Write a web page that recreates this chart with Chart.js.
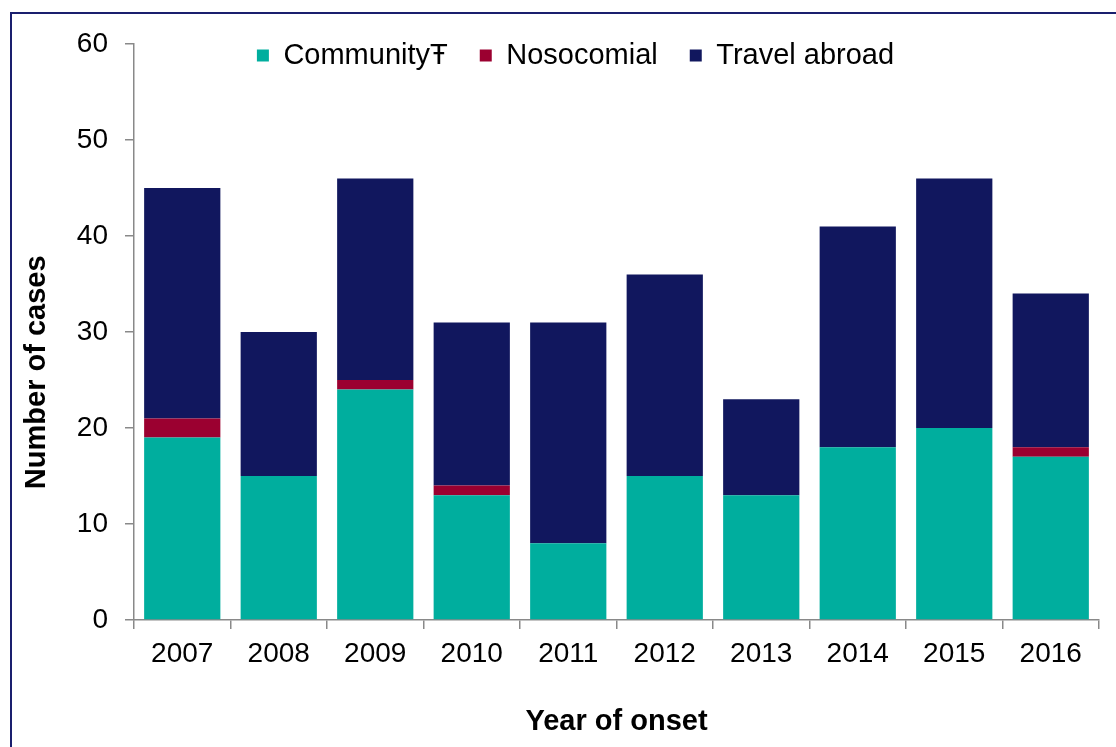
<!DOCTYPE html>
<html>
<head>
<meta charset="utf-8">
<title>Cases by year of onset</title>
<script src="https://cdn.jsdelivr.net/npm/chart.js@4/dist/chart.umd.min.js"></script>
<style>
    body { margin: 0; background: #fff; }
    #wrap { position: relative; width: 1116px; height: 747px; }
    #frame {
        position: absolute; left: 10px; top: 12px; right: -10px; bottom: -10px;
        border-left: 2px solid #1a1f6e; border-top: 2px solid #1a1f6e;
        pointer-events: none;
    }
    canvas { position: absolute; left: 0; top: 0; }
</style>
</head>
<body>
<div id="wrap">
    <canvas id="grafica" width="1116" height="747"></canvas>
    <div id="frame"></div>
</div>
<script>
const years = ["2007", "2008", "2009", "2010", "2011", "2012", "2013", "2014", "2015", "2016"];
const community = [19, 15, 24, 13, 8, 15, 13, 18, 20, 17];
const nosocomial = [2, 0, 1, 1, 0, 0, 0, 0, 0, 1];
const travelAbroad = [24, 15, 21, 17, 23, 21, 10, 23, 26, 16];

const FONT = "'Liberation Sans', Arial, sans-serif";
const AXIS_GREY = "#898989";

// legend sits inside the plot, so move it down after layout
const legendInside = {
    id: "legendInside",
    afterLayout(chart) {
        const lg = chart.legend;
        lg.top += 36;
        lg.bottom += 36;
        lg.left += 26;
        lg.right += 26;
    }
};

function iniciarGrafica() {
    const ctx = document.getElementById("grafica").getContext("2d");

    new Chart(ctx, {
        type: "bar",
        data: {
            labels: years,
            datasets: [
                { label: "Community\u0166", data: community, backgroundColor: "#00ae9e" },
                { label: "Nosocomial", data: nosocomial, backgroundColor: "#9b0030" },
                { label: "Travel abroad", data: travelAbroad, backgroundColor: "#11175e" }
            ]
        },
        options: {
            responsive: false,
            animation: false,
            devicePixelRatio: 1,
            barPercentage: 0.79,
            categoryPercentage: 1,
            layout: { padding: { top: -27, right: 17, bottom: 0, left: 0 } },
            plugins: {
                tooltip: { enabled: false },
                legend: {
                    position: "top",
                    labels: {
                        color: "#000",
                        boxWidth: 12,
                        boxHeight: 12,
                        padding: 32,
                        font: { family: FONT, size: 29 }
                    }
                }
            },
            scales: {
                x: {
                    stacked: true,
                    afterFit: (s) => { s.height = 127; },
                    grid: {
                        drawOnChartArea: false,
                        tickLength: 9,
                        tickColor: AXIS_GREY,
                        lineWidth: 1.5
                    },
                    border: { color: AXIS_GREY, width: 1.5 },
                    ticks: {
                        color: "#000",
                        padding: 8,
                        font: { family: FONT, size: 28 }
                    },
                    title: {
                        display: true,
                        text: "Year of onset",
                        color: "#000",
                        padding: { top: 0, bottom: 8 },
                        font: { family: FONT, size: 29, weight: "bold" }
                    }
                },
                y: {
                    stacked: true,
                    min: 0,
                    max: 60,
                    afterFit: (s) => { s.width = 134; },
                    grid: {
                        drawOnChartArea: false,
                        tickLength: 9,
                        tickColor: AXIS_GREY,
                        lineWidth: 1.5
                    },
                    border: { color: AXIS_GREY, width: 1.5 },
                    ticks: {
                        stepSize: 10,
                        color: "#000",
                        padding: 17,
                        font: { family: FONT, size: 28 }
                    },
                    title: {
                        display: true,
                        // trailing spaces push the title down, as in the original
                        text: "Number of cases" + "\u00a0".repeat(10),
                        color: "#000",
                        padding: { top: 20, bottom: 0 },
                        font: { family: FONT, size: 29, weight: "bold" }
                    }
                }
            }
        },
        plugins: [legendInside]
    });
}

document.addEventListener("DOMContentLoaded", iniciarGrafica);
</script>
</body>
</html>
